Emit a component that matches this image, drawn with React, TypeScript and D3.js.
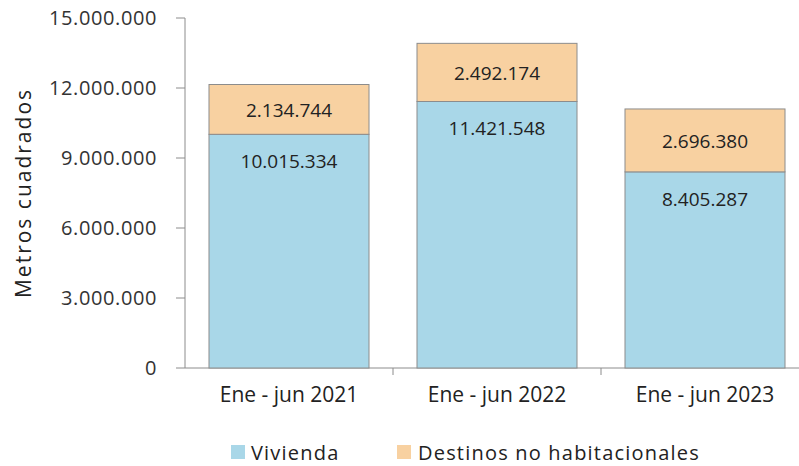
import React from "react";
import * as d3 from "d3";

const categories = ["Ene - jun 2021", "Ene - jun 2022", "Ene - jun 2023"];
const vivienda = [10015334, 11421548, 8405287];
const noHabitacional = [2134744, 2492174, 2696380];
const yTicks = [0, 3000000, 6000000, 9000000, 12000000, 15000000];
const seriesNames = ["Vivienda", "Destinos no habitacionales"];

const fmt = (v: number) => d3.format(",")(v).replace(/,/g, ".");

export default function App() {
  const w = 799,
    h = 466;
  const margin = { top: 18, left: 185, bottom: 98 };
  const y0 = h - margin.bottom; // 368

  const xScale = d3
    .scaleBand()
    .domain(categories)
    .range([margin.left, margin.left + 208 * 3])
    .paddingInner(48 / 208)
    .paddingOuter(24 / 208);

  const yScale = d3.scaleLinear().domain([0, 15000000]).range([y0, margin.top]);

  const font = "'Open Sans', sans-serif";
  const blue = "#a9d7e8";
  const orange = "#f8d1a1";
  const stroke = "#8c8c8c";

  const bars = categories.map((c, i) => {
    const x = xScale(c)!;
    const bw = xScale.bandwidth();
    const yv = yScale(vivienda[i]);
    const yt = yScale(vivienda[i] + noHabitacional[i]);
    return (
      <g key={c}>
        <rect x={x} y={yv} width={bw} height={y0 - yv} fill={blue} stroke={stroke} strokeWidth={1} />
        <rect x={x} y={yt} width={bw} height={yv - yt} fill={orange} stroke={stroke} strokeWidth={1} />
        <text x={x + bw / 2} y={(yt + yv) / 2 + 8} textAnchor="middle" fontSize={19} fill="#222">
          {fmt(noHabitacional[i])}
        </text>
        <text x={x + bw / 2} y={yv + 34} textAnchor="middle" fontSize={19} fill="#222">
          {fmt(vivienda[i])}
        </text>
      </g>
    );
  });

  return (
    <svg width={w} height={h} style={{ position: "absolute", left: 0, top: 0, fontFamily: font }}>
      <line x1={margin.left} x2={margin.left} y1={margin.top} y2={y0} stroke={stroke} />
      <line x1={margin.left} x2={w} y1={y0} y2={y0} stroke={stroke} />
      {yTicks.map((t) => (
        <g key={t}>
          <line x1={margin.left - 9} x2={margin.left} y1={yScale(t)} y2={yScale(t)} stroke={stroke} />
          <text x={157} y={yScale(t) + 7} textAnchor="end" fontSize={20} fill="#333" letterSpacing={0.6}>
            {fmt(t)}
          </text>
        </g>
      ))}
      {categories.map((c, i) => {
        const xb = xScale(c)! + xScale.bandwidth() + 24;
        return (
          <g key={c}>
            {i < categories.length - 1 && (
              <line x1={xb} x2={xb} y1={y0} y2={y0 + 7} stroke={stroke} />
            )}
            <text
              x={xScale(c)! + xScale.bandwidth() / 2}
              y={402}
              textAnchor="middle"
              fontSize={21}
              fill="#222"
            >
              {c}
            </text>
          </g>
        );
      })}
      {bars}
      <text
        transform={`translate(31,${(margin.top + y0) / 2}) rotate(-90)`}
        textAnchor="middle"
        fontSize={21}
        letterSpacing={2}
        fill="#222"
      >
        Metros cuadrados
      </text>
      <g>
        <rect x={231} y={445} width={14} height={14} fill={blue} />
        <text x={251} y={460} fontSize={20} letterSpacing={1.2} fill="#222">
          {seriesNames[0]}
        </text>
        <rect x={397} y={445} width={14} height={14} fill={orange} />
        <text x={418} y={460} fontSize={20} letterSpacing={1.2} fill="#222">
          {seriesNames[1]}
        </text>
      </g>
    </svg>
  );
}
